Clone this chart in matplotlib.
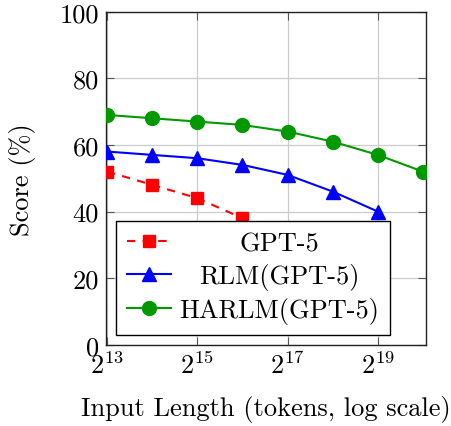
import matplotlib
matplotlib.use("Agg")
import matplotlib.pyplot as plt
import numpy as np

plt.rcParams['font.family'] = 'serif'
plt.rcParams['font.serif'] = ['cmr10']
plt.rcParams['mathtext.fontset'] = 'cm'
plt.rcParams['axes.unicode_minus'] = False

# ---- data ----
x_gpt5 = [2**13, 2**14, 2**15, 2**16]
y_gpt5 = [52, 48, 44, 38]
x_rlm = [2**13, 2**14, 2**15, 2**16, 2**17, 2**18, 2**19]
y_rlm = [58, 57, 56, 54, 51, 46, 40]
x_harlm = [2**13, 2**14, 2**15, 2**16, 2**17, 2**18, 2**19, 2**20]
y_harlm = [69, 68, 67, 66, 64, 61, 57, 52]
series_labels = ['GPT-5', 'RLM(GPT-5)', 'HARLM(GPT-5)']
xtick_values = [2**13, 2**15, 2**17, 2**19]
xtick_labels = ['$2^{13}$', '$2^{15}$', '$2^{17}$', '$2^{19}$']
ytick_values = [0, 20, 40, 60, 80, 100]

FS = 19

fig = plt.figure(figsize=(4.51, 4.27), dpi=100)
ax = fig.add_axes([106/451, (427-345.7)/427, 320/451, 333/427])

ax.set_xscale('log', base=2)
ax.set_xlim(2**12.976, 2**20.07)
ax.set_ylim(0, 100)

ax.plot(x_gpt5, y_gpt5, color='#ff0000', lw=1.5, dashes=(4, 3.5),
        marker='s', markersize=8.5, label=series_labels[0], zorder=3)
ax.plot(x_rlm, y_rlm, color='#0000ff', lw=1.5,
        marker='^', markersize=10, label=series_labels[1], zorder=3)
ax.plot(x_harlm, y_harlm, color='#009900', lw=1.5,
        marker='o', markersize=10, label=series_labels[2], zorder=3)

ax.set_xticks(xtick_values)
ax.set_xticklabels(xtick_labels)
ax.xaxis.set_minor_locator(matplotlib.ticker.NullLocator())
ax.set_yticks(ytick_values)
ax.set_yticklabels([str(v) for v in ytick_values])

ax.grid(True, which='major', color='#cccccc', lw=0.9)
ax.set_axisbelow(True)
ax.tick_params(axis='both', which='major', direction='in', length=6,
               width=0.8, color='#555555', labelsize=FS,
               top=True, right=True, pad=5)
for sp in ax.spines.values():
    sp.set_linewidth(1.0)
    sp.set_color('#222222')

ax.set_xlabel('Input Length (tokens, log scale)', fontsize=FS, labelpad=12)
ax.set_ylabel('Score (%)', fontsize=FS, labelpad=17)

leg = ax.legend(loc='lower left', bbox_to_anchor=(10/320, 10/333),
                borderaxespad=0, fontsize=FS, frameon=True, fancybox=False,
                edgecolor='black', framealpha=1.0, handlelength=1.7,
                handletextpad=0.3, borderpad=0.4, labelspacing=0.28)
leg.get_frame().set_linewidth(1.0)
leg.set_zorder(5)

# center legend texts within the text column
fig.canvas.draw()
renderer = fig.canvas.get_renderer()
texts = leg.get_texts()
widths = [t.get_window_extent(renderer).width for t in texts]
W = max(widths)
for t, w in zip(texts, widths):
    t.set_x((W - w) / 2)

fig.savefig('out.png', dpi=100)
